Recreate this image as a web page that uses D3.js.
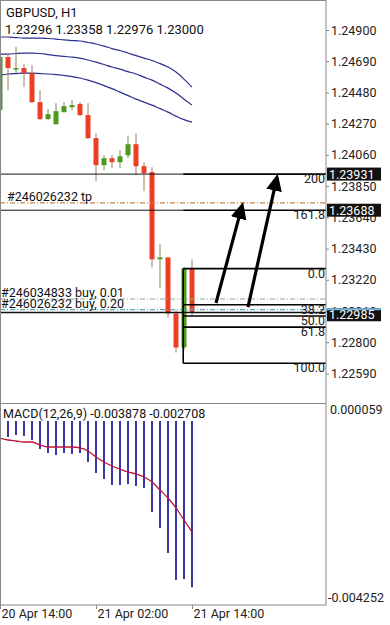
<!DOCTYPE html>
<html>
<head>
<meta charset="utf-8">
<script src="https://cdn.jsdelivr.net/npm/d3@7"></script>
<style>
  body { margin: 0; background: #fff; }
  svg { display: block; font-family: Roboto, "Noto Sans", sans-serif; }
</style>
</head>
<body>
<svg id="chart" width="390" height="625"></svg>
<script>
// H1 bars, 20 Apr 14:00 .. 21 Apr 14:00
const times = [
  '20 Apr 14:00', '20 Apr 15:00', '20 Apr 16:00', '20 Apr 17:00', '20 Apr 18:00',
  '20 Apr 19:00', '20 Apr 20:00', '20 Apr 21:00', '20 Apr 22:00', '20 Apr 23:00',
  '21 Apr 00:00', '21 Apr 01:00', '21 Apr 02:00', '21 Apr 03:00', '21 Apr 04:00',
  '21 Apr 05:00', '21 Apr 06:00', '21 Apr 07:00', '21 Apr 08:00', '21 Apr 09:00',
  '21 Apr 10:00', '21 Apr 11:00', '21 Apr 12:00', '21 Apr 13:00', '21 Apr 14:00'
];
const opens = [1.24361, 1.24718, 1.24637, 1.24644, 1.24610, 1.24415, 1.24301, 1.24267,
  1.24348, 1.24381, 1.24402, 1.24328, 1.24173, 1.23991, 1.24038, 1.24011, 1.24058,
  1.24132, 1.23984, 1.23944, 1.23358, 1.23371, 1.22994, 1.22765, 1.23296];
const highs = [1.24732, 1.24738, 1.24786, 1.24671, 1.24664, 1.24496, 1.24368, 1.24408,
  1.24415, 1.24429, 1.24415, 1.24408, 1.24206, 1.24058, 1.24058, 1.24092, 1.24186,
  1.24206, 1.24011, 1.23977, 1.23459, 1.23371, 1.23014, 1.23304, 1.23358];
const lows = [1.24348, 1.24496, 1.24610, 1.24516, 1.24410, 1.24294, 1.24294, 1.24260,
  1.24345, 1.24361, 1.24321, 1.24166, 1.23883, 1.23957, 1.23971, 1.23971, 1.24038,
  1.23923, 1.23816, 1.23304, 1.23162, 1.22967, 1.22731, 1.22745, 1.22976];
const closes = [1.24718, 1.24644, 1.24644, 1.24610, 1.24415, 1.24301, 1.24334, 1.24354,
  1.24388, 1.24395, 1.24328, 1.24173, 1.23991, 1.24038, 1.24011, 1.24051, 1.24132,
  1.23984, 1.23937, 1.23358, 1.23371, 1.22994, 1.22765, 1.23297, 1.23000];

// envelope lines
const envUpper = [1.24853, 1.24853, 1.24849, 1.24846, 1.24846, 1.24846, 1.24843, 1.24839,
  1.24833, 1.24829, 1.24826, 1.24816, 1.24806, 1.24792, 1.24775, 1.24762, 1.24745,
  1.24728, 1.24711, 1.24695, 1.24674, 1.24651, 1.24617, 1.24570, 1.24516];
const envMiddle = [1.24738, 1.24738, 1.24742, 1.24745, 1.24745, 1.24742, 1.24735, 1.24728,
  1.24722, 1.24718, 1.24711, 1.24698, 1.24684, 1.24668, 1.24651, 1.24637, 1.24620,
  1.24604, 1.24583, 1.24563, 1.24536, 1.24509, 1.24476, 1.24435, 1.24395];
const envLower = [1.24597, 1.24604, 1.24607, 1.24610, 1.24610, 1.24607, 1.24604, 1.24600,
  1.24594, 1.24587, 1.24577, 1.24563, 1.24546, 1.24526, 1.24506, 1.24482, 1.24459,
  1.24435, 1.24415, 1.24395, 1.24371, 1.24348, 1.24321, 1.24297, 1.24280];

// MACD(12,26,9)
const macdHist = [-0.000913, -0.000702, -0.000659, -0.000680, -0.000765, -0.000955,
  -0.001040, -0.001082, -0.001040, -0.001061, -0.001040, -0.001230, -0.001462,
  -0.001589, -0.001716, -0.001716, -0.001695, -0.001737, -0.001779, -0.002287,
  -0.002625, -0.003153, -0.003724, -0.003702, -0.003878];
const macdSignal = [-0.000723, -0.000765, -0.000786, -0.000807, -0.000807, -0.000871,
  -0.000913, -0.000913, -0.000913, -0.000913, -0.000934, -0.000997, -0.001124,
  -0.001230, -0.001315, -0.001378, -0.001441, -0.001484, -0.001547, -0.001653,
  -0.001822, -0.001991, -0.002202, -0.002456, -0.002708];
const macdRange = [-0.004252, 0.000059];

const priceTicks = [1.24900, 1.24690, 1.24480, 1.24270, 1.24060, 1.23850, 1.23640,
  1.23430, 1.23220, 1.23010, 1.22800, 1.22590];
const timeTicks = ['20 Apr 14:00', '21 Apr 02:00', '21 Apr 14:00'];

// fibonacci drawn on the 13:00 bar, 0 at the top, extensions drawn upward
const fibRatios = [0, 0.382, 0.5, 0.618, 1, -0.618, -1];
const fibLabels = ['0.0', '38.2', '50.0', '61.8', '100.0', '161.8', '200'];
const fibHigh = 1.23295;
const fibLow = 1.22659;
const fibAnchor = 22.9;

// order lines
const orderLabels = ['#246026232 tp', '#246034833 buy, 0.01', '#246026232 buy, 0.20'];
const orderPrices = [1.23737, 1.23091, 1.23020];
const orderColors = ['#c8864a', '#8aa898', '#5aa8b8'];
const hLinePrice = 1.23000;
const bidPrice = 1.22985;

// hand drawn arrows: [bar index, price]
const arrowFrom = [[27, 1.23064], [31, 1.23037]];
const arrowTo = [[30.25, 1.23716], [34.6, 1.23905]];

const plotRight = 326;
const mainBottom = 403;
const macdBottom = 605;
const red = '#ee3e24';
const green = '#4e9a1e';
const navy = '#2b2f8f';

const svg = d3.select('#chart');

const x = d3.scaleLinear().domain([0, 24]).range([0, 192]);
const y = d3.scaleLinear().domain([1.22590, 1.24900]).range([373.5, 30]);
const yM = d3.scaleLinear().domain(macdRange).range([605, 401]);

const fibPrice = r => fibHigh - r * (fibHigh - fibLow);

const defs = svg.append('defs');
defs.append('clipPath').attr('id', 'clipMain')
  .append('rect').attr('x', 0).attr('y', 0).attr('width', plotRight).attr('height', mainBottom);
defs.append('clipPath').attr('id', 'clipMacd')
  .append('rect').attr('x', 0).attr('y', mainBottom).attr('width', plotRight)
  .attr('height', macdBottom - mainBottom);
defs.append('marker').attr('id', 'head')
  .attr('viewBox', '0 -8 16 16').attr('refX', 12).attr('refY', 0)
  .attr('markerUnits', 'userSpaceOnUse').attr('markerWidth', 17).attr('markerHeight', 17)
  .attr('orient', 'auto')
  .append('path').attr('d', 'M0,-7.5L16,0L0,7.5Z').attr('fill', '#000');

const main = svg.append('g').attr('clip-path', 'url(#clipMain)');
const macd = svg.append('g').attr('clip-path', 'url(#clipMacd)');

// envelopes
[envUpper, envMiddle, envLower].forEach(arr => {
  main.append('path')
    .datum(arr)
    .attr('fill', 'none')
    .attr('stroke', navy)
    .attr('stroke-width', 1.2)
    .attr('d', d3.line().x((d, i) => x(i)).y(d => y(d)).curve(d3.curveMonotoneX));
});

// candles
const candles = times.map((t, i) => ({
  i, o: opens[i], h: highs[i], l: lows[i], c: closes[i]
}));
const cg = main.append('g').selectAll('g').data(candles).join('g');
cg.append('line')
  .attr('x1', d => x(d.i)).attr('x2', d => x(d.i))
  .attr('y1', d => y(d.h)).attr('y2', d => y(d.l))
  .attr('stroke', d => d.c >= d.o ? '#7a8a5a' : '#a07a66')
  .attr('stroke-width', 1);
cg.append('rect')
  .attr('x', d => x(d.i) - 2.5)
  .attr('width', 5)
  .attr('y', d => y(Math.max(d.o, d.c)))
  .attr('height', d => Math.max(1.5, Math.abs(y(d.o) - y(d.c))))
  .attr('fill', d => d.c >= d.o ? green : red);

// the two extension levels also run across the whole chart as thin lines
main.selectAll('line.full')
  .data([-1, -0.618])
  .join('line')
  .attr('x1', 0).attr('x2', x(fibAnchor))
  .attr('y1', d => y(fibPrice(d))).attr('y2', d => y(fibPrice(d)))
  .attr('stroke', '#111').attr('stroke-width', 1);

main.selectAll('line.order')
  .data(orderPrices)
  .join('line')
  .attr('x1', 0).attr('x2', plotRight)
  .attr('y1', d => y(d)).attr('y2', d => y(d))
  .attr('stroke', (d, i) => orderColors[i])
  .attr('stroke-width', 1.2)
  .attr('stroke-dasharray', '5,2,1,2');

main.append('line')
  .attr('x1', 0).attr('x2', plotRight)
  .attr('y1', y(hLinePrice)).attr('y2', y(hLinePrice))
  .attr('stroke', '#111').attr('stroke-width', 1.6);

main.selectAll('text.order')
  .data(orderLabels)
  .join('text')
  .attr('x', (d, i) => i === 0 ? 7 : 1)
  .attr('y', (d, i) => y(orderPrices[i]) - 2)
  .attr('font-size', 12.5)
  .attr('fill', '#111')
  .text(d => d);

// fibonacci
const fib = main.append('g');
fib.selectAll('line')
  .data(fibRatios)
  .join('line')
  .attr('x1', x(fibAnchor)).attr('x2', plotRight)
  .attr('y1', d => y(fibPrice(d))).attr('y2', d => y(fibPrice(d)))
  .attr('stroke', '#000').attr('stroke-width', 1.6);
fib.append('line')
  .attr('x1', x(fibAnchor)).attr('x2', x(fibAnchor))
  .attr('y1', y(fibHigh)).attr('y2', y(fibLow))
  .attr('stroke', '#000').attr('stroke-width', 1.6);
fib.selectAll('text')
  .data(fibRatios)
  .join('text')
  .attr('x', plotRight - 1)
  .attr('y', d => y(fibPrice(d)) + 9)
  .attr('text-anchor', 'end')
  .attr('font-size', 12.5)
  .attr('fill', '#222')
  .text((d, i) => fibLabels[i]);

// arrows
main.selectAll('line.arrow')
  .data(arrowFrom)
  .join('line')
  .attr('x1', d => x(d[0])).attr('y1', d => y(d[1]))
  .attr('x2', (d, i) => x(arrowTo[i][0])).attr('y2', (d, i) => y(arrowTo[i][1]))
  .attr('stroke', '#000').attr('stroke-width', 3.2)
  .attr('marker-end', 'url(#head)');

// MACD
macd.selectAll('line.bar')
  .data(macdHist)
  .join('line')
  .attr('x1', (d, i) => x(i)).attr('x2', (d, i) => x(i))
  .attr('y1', yM(0)).attr('y2', d => yM(d))
  .attr('stroke', '#23239a').attr('stroke-width', 1.8);
macd.append('path')
  .datum(macdSignal)
  .attr('fill', 'none')
  .attr('stroke', '#c0143c')
  .attr('stroke-width', 1.3)
  .attr('d', d3.line().x((d, i) => x(i)).y(d => yM(d)).curve(d3.curveMonotoneX));

const macdTitle = `MACD(12,26,9) ${macdHist[macdHist.length - 1].toFixed(6)} ${macdSignal[macdSignal.length - 1].toFixed(6)}`;
macd.append('rect')
  .attr('x', 3).attr('y', mainBottom + 1).attr('width', 211).attr('height', 17)
  .attr('fill', '#fff');
macd.append('text')
  .attr('x', 3).attr('y', 418)
  .attr('font-size', 12.5).attr('fill', '#111')
  .text(macdTitle);

// frame
svg.append('rect')
  .attr('x', 0.5).attr('y', 0.5)
  .attr('width', plotRight - 0.5).attr('height', macdBottom - 0.5)
  .attr('fill', 'none').attr('stroke', '#888');
svg.append('line')
  .attr('x1', 0).attr('x2', plotRight)
  .attr('y1', mainBottom + 0.5).attr('y2', mainBottom + 0.5)
  .attr('stroke', '#888');

// price axis
const yAxis = svg.append('g')
  .attr('transform', `translate(${plotRight},0)`)
  .call(d3.axisRight(y).tickValues(priceTicks).tickSize(3).tickPadding(2)
    .tickFormat(d3.format('.5f')));
yAxis.select('.domain').remove();
yAxis.selectAll('line').attr('stroke', '#888');
yAxis.selectAll('text').attr('font-size', 12.5).attr('fill', '#222')
  .attr('font-family', 'Roboto, sans-serif');

// MACD axis (max / min of the window)
svg.selectAll('text.macdAxis')
  .data(macdRange)
  .join('text')
  .attr('x', d => d < 0 ? 328 : 330)
  .attr('y', d => d < 0 ? yM(d) - 3 : yM(d) + 13)
  .attr('font-size', 12.5).attr('fill', '#222')
  .text(d => d.toFixed(6));

// time axis
const xAxis = svg.append('g')
  .attr('transform', `translate(0,${macdBottom})`)
  .call(d3.axisBottom(x).tickValues(timeTicks.map(t => times.indexOf(t)))
    .tickSize(4).tickFormat(i => times[i]));
xAxis.select('.domain').remove();
xAxis.selectAll('line').attr('stroke', '#888');
xAxis.selectAll('text')
  .attr('text-anchor', 'start').attr('dx', 1).attr('dy', 0).attr('y', 13)
  .attr('font-size', 12.5).attr('fill', '#222')
  .attr('font-family', 'Roboto, sans-serif');

// price labels on the axis
const boxes = [fibPrice(-1), fibPrice(-0.618), bidPrice];
const bg = svg.selectAll('g.box').data(boxes).join('g');
bg.append('rect')
  .attr('x', plotRight + 1).attr('y', d => y(d) - 6.5)
  .attr('width', 54).attr('height', 13)
  .attr('fill', '#111');
bg.append('text')
  .attr('x', plotRight + 3).attr('y', d => y(d) + 4.5)
  .attr('font-size', 12.5).attr('fill', '#fff')
  .text(d => d.toFixed(5));
svg.append('line')
  .attr('x1', plotRight).attr('x2', plotRight + 55)
  .attr('y1', y(bidPrice) - 5.5).attr('y2', y(bidPrice) - 5.5)
  .attr('stroke', '#7ab8e0').attr('stroke-width', 2);

// header
svg.append('text').attr('x', 6).attr('y', 17)
  .attr('font-size', 13).attr('fill', '#111').text('GBPUSD, H1');
svg.append('text').attr('x', 5).attr('y', 34)
  .attr('font-size', 13).attr('fill', '#111')
  .text([opens, highs, lows, closes].map(a => a[a.length - 1].toFixed(5)).join(' '));
</script>
</body>
</html>
